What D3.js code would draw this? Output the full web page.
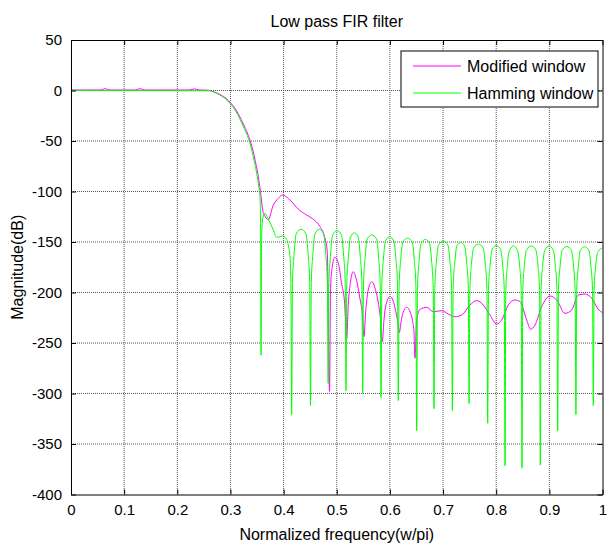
<!DOCTYPE html>
<html>
<head>
<meta charset="utf-8">
<script src="https://cdn.jsdelivr.net/npm/d3@7"></script>
<style>
  body { margin: 0; background: #fff; }
  text { font-family: "Liberation Sans", Arial, sans-serif; }
</style>
</head>
<body>
<svg id="chart"></svg>
<script>
// Axis ticks
const freqTicks = [0, 0.1, 0.2, 0.3, 0.4, 0.5, 0.6, 0.7, 0.8, 0.9, 1];
const dbTicks = [-400, -350, -300, -250, -200, -150, -100, -50, 0, 50];

const seriesNames = ["Modified window", "Hamming window"];

// Modified window response: [normalized freq, dB]
const modified = [
  [0, 0.5], [0.055, 0.5], [0.064, 1.8], [0.073, 0.5], [0.121, 0.5], [0.13, 1.8], [0.139, 0.5],
  [0.223, 0.5], [0.232, 1.6], [0.241, 0.5], [0.256, 0.3],
  [0.2635, -0.3], [0.273, -2.2], [0.2823, -4.5], [0.2917, -7.8], [0.3011, -12.7], [0.3106, -19.3],
  [0.32, -28.5], [0.328, -37.5], [0.3356, -47.3], [0.342, -58.9], [0.347, -70.5], [0.3514, -82],
  [0.3552, -95.2], [0.3576, -105], [0.3605, -118], [0.3655, -125], [0.371, -128], [0.3806, -113.4],
  [0.39, -106.8], [0.3983, -103.5], [0.412, -108.4], [0.4277, -117.6], [0.4435, -123.3],
  [0.4559, -127.5], [0.4685, -134.8], [0.476, -143], [0.4822, -159.6], [0.4864, -298],
  [0.4884, -195], [0.4914, -175], [0.4967, -165.2], [0.5035, -172], [0.5087, -190], [0.5147, -210], [0.5187, -246],
  [0.5217, -212], [0.5257, -190], [0.531, -179.4], [0.5373, -188], [0.5433, -205], [0.5483, -222], [0.5513, -243.7],
  [0.5543, -220], [0.5583, -200], [0.5658, -189.3], [0.5728, -197], [0.5788, -212], [0.5827, -228], [0.5857, -248.7],
  [0.5887, -228], [0.5927, -212], [0.6002, -204], [0.6072, -210], [0.6122, -222], [0.6152, -230], [0.6177, -240],
  [0.6207, -230], [0.6247, -220], [0.6316, -214.7], [0.6386, -220], [0.6426, -228], [0.6452, -238], [0.6472, -265],
  [0.6502, -228], [0.6566, -216.7], [0.6692, -214.7], [0.6817, -219], [0.6975, -218], [0.7099, -221.3],
  [0.7225, -224], [0.7351, -222.3], [0.7507, -212.4], [0.7633, -208], [0.7757, -212.4], [0.7883, -222.3],
  [0.8009, -231.2], [0.8103, -227.2], [0.8228, -212.4], [0.8354, -207.4], [0.8448, -209], [0.8574, -227.2],
  [0.8649, -236.4], [0.873, -232.2], [0.8856, -214], [0.9012, -203.5], [0.9138, -207.4], [0.9294, -220.6],
  [0.942, -217.3], [0.9545, -202.5], [0.967, -201.5], [0.9797, -205.7], [0.9921, -216.7], [1.0, -220]
];

// Hamming window response: [normalized freq, dB]
const hamming = [
  [0, 0], [0.2615, -0.3], [0.271, -2.2], [0.2803, -4.5], [0.2897, -7.8], [0.2991, -12.7], [0.3086, -19.3],
  [0.318, -28.5], [0.326, -37.5], [0.3336, -47.3], [0.34, -58.9], [0.345, -70.5], [0.3494, -82],
  [0.3532, -95.2], [0.3556, -105], [0.3568, -140], [0.3575, -262],
  [0.3585, -150], [0.361, -126], [0.365, -121.6], [0.3682, -124], [0.3745, -131], [0.3806, -138],
  [0.387, -145.4], [0.3932, -144.7], [0.3983, -144], [0.4045, -146.3], [0.4088, -153], [0.412, -164.5],
  [0.4137, -190], [0.4152, -321],
  [0.4167, -190], [0.4197, -162], [0.4237, -142], [0.433, -137.4], [0.4421, -142], [0.4461, -162], [0.4491, -190], [0.4506, -312],
  [0.4521, -190], [0.4551, -162], [0.4591, -142], [0.4672, -137.4], [0.4753, -142], [0.4793, -162], [0.4823, -190], [0.4838, -290],
  [0.4853, -190], [0.4883, -163], [0.4923, -143], [0.5006, -138.8], [0.5089, -143], [0.5129, -163], [0.5159, -190], [0.5174, -297.5],
  [0.5189, -191], [0.5219, -165], [0.5259, -145], [0.5331, -141], [0.5403, -145], [0.5443, -165], [0.5473, -191], [0.5488, -300],
  [0.5503, -192], [0.5533, -166], [0.5573, -147], [0.566, -143], [0.5748, -147], [0.5788, -166], [0.5818, -192], [0.5833, -304],
  [0.5848, -193], [0.5878, -167], [0.5918, -149], [0.5995, -144.7], [0.6073, -149], [0.6113, -167], [0.6143, -193], [0.6158, -307],
  [0.6173, -194], [0.6203, -168], [0.6243, -150], [0.6331, -146.3], [0.6419, -150], [0.6459, -168], [0.6489, -194], [0.6504, -337],
  [0.6519, -195], [0.6549, -169], [0.6589, -151], [0.6667, -147.5], [0.6745, -151], [0.6785, -169], [0.6815, -195], [0.683, -315],
  [0.6845, -195], [0.6875, -170], [0.6915, -153], [0.7002, -149], [0.709, -153], [0.713, -170], [0.716, -195], [0.7175, -317],
  [0.719, -196], [0.722, -171], [0.726, -154], [0.7333, -150.5], [0.7405, -154], [0.7445, -171], [0.7475, -196], [0.749, -310],
  [0.7505, -196], [0.7535, -172], [0.7575, -156], [0.7665, -152], [0.7755, -156], [0.7795, -172], [0.7825, -196], [0.784, -329.5],
  [0.7855, -197], [0.7885, -173], [0.7925, -157], [0.8003, -153.5], [0.8081, -157], [0.8121, -173], [0.8151, -197], [0.8166, -371.5],
  [0.8181, -197], [0.8211, -173], [0.8251, -158], [0.8326, -154], [0.84, -158], [0.844, -173], [0.847, -197], [0.8485, -374],
  [0.85, -197], [0.853, -173], [0.857, -158], [0.8658, -154], [0.8745, -158], [0.8785, -173], [0.8815, -197], [0.883, -371],
  [0.8845, -197], [0.8875, -173], [0.8915, -158], [0.8994, -154], [0.9072, -158], [0.9112, -173], [0.9142, -197], [0.9157, -337],
  [0.9172, -197], [0.9202, -174], [0.9242, -158], [0.9329, -154.5], [0.9415, -158], [0.9455, -174], [0.9485, -197], [0.95, -321],
  [0.9515, -197], [0.9545, -174], [0.9585, -158], [0.9664, -154.7], [0.9742, -158], [0.9782, -174], [0.9812, -197], [0.9827, -312],
  [0.9842, -197], [0.9872, -174], [0.9912, -160], [1.0, -156]
];

const width = 607, height = 543;
const plot = {left: 71, right: 602.5, top: 40, bottom: 494.5};
const tickFont = 15, labelFont = 16;

const svg = d3.select("#chart")
  .attr("width", width)
  .attr("height", height)
  .style("background", "#fff");

const x = d3.scaleLinear().domain([0, 1]).range([plot.left, plot.right]);
const y = d3.scaleLinear().domain([-400, 50]).range([plot.bottom, plot.top]);

// Grid lines (dotted, MATLAB style)
svg.append("g")
  .selectAll("line.vgrid")
  .data(freqTicks.slice(1, -1))
  .enter()
  .append("line")
    .attr("x1", d => x(d)).attr("x2", d => x(d))
    .attr("y1", plot.top).attr("y2", plot.bottom)
    .style("stroke", "#555")
    .style("stroke-dasharray", "1,1");
svg.append("g")
  .selectAll("line.hgrid")
  .data(dbTicks.slice(1, -1))
  .enter()
  .append("line")
    .attr("x1", plot.left).attr("x2", plot.right)
    .attr("y1", d => y(d)).attr("y2", d => y(d))
    .style("stroke", "#555")
    .style("stroke-dasharray", "1,1");

// Clip for the curves
svg.append("clipPath").attr("id", "clip")
  .append("rect")
    .attr("x", plot.left).attr("y", plot.top)
    .attr("width", plot.right - plot.left)
    .attr("height", plot.bottom - plot.top);

const line = d3.line()
  .x(d => x(d[0]))
  .y(d => y(d[1]))
  .curve(d3.curveMonotoneX);

const colors = ["#ff00ff", "#00ff00"];

svg.append("path")
  .datum(modified)
  .attr("clip-path", "url(#clip)")
  .attr("d", line)
  .style("fill", "none")
  .style("stroke", colors[0])
  .style("stroke-width", 1);

svg.append("path")
  .datum(hamming)
  .attr("clip-path", "url(#clip)")
  .attr("d", line)
  .style("fill", "none")
  .style("stroke", colors[1])
  .style("stroke-width", 1);

// Axes: inward ticks on all four sides, plain hyphen for minus
const fmt = d => String(d);
const tickLen = 5;
svg.append("g")
  .attr("transform", `translate(0,${plot.bottom})`)
  .call(d3.axisBottom(x).tickValues(freqTicks).tickSizeInner(-tickLen).tickSizeOuter(0)
    .tickPadding(10).tickFormat(fmt))
  .call(g => g.select(".domain").style("stroke", "#000"))
  .call(g => g.selectAll("text").style("font-size", tickFont + "px").attr("fill", "#000"));
svg.append("g")
  .attr("transform", `translate(0,${plot.top})`)
  .call(d3.axisTop(x).tickValues(freqTicks).tickSizeInner(-tickLen).tickSizeOuter(0).tickFormat(""))
  .call(g => g.select(".domain").style("stroke", "#000"));
svg.append("g")
  .attr("transform", `translate(${plot.left},0)`)
  .call(d3.axisLeft(y).tickValues(dbTicks).tickSizeInner(-tickLen).tickSizeOuter(0)
    .tickPadding(9).tickFormat(fmt))
  .call(g => g.select(".domain").style("stroke", "#000"))
  .call(g => g.selectAll("text").style("font-size", tickFont + "px").attr("fill", "#000"));
svg.append("g")
  .attr("transform", `translate(${plot.right},0)`)
  .call(d3.axisRight(y).tickValues(dbTicks).tickSizeInner(-tickLen).tickSizeOuter(0).tickFormat(""))
  .call(g => g.select(".domain").style("stroke", "#000"));

// Title and axis labels
svg.append("text")
  .attr("x", (plot.left + plot.right) / 2)
  .attr("y", 27)
  .attr("text-anchor", "middle")
  .style("font-size", labelFont + "px")
  .text("Low pass FIR filter");
svg.append("text")
  .attr("x", (plot.left + plot.right) / 2)
  .attr("y", 540)
  .attr("text-anchor", "middle")
  .style("font-size", labelFont + "px")
  .text("Normalized frequency(w/pi)");
svg.append("text")
  .attr("transform", `translate(23,${(plot.top + plot.bottom) / 2}) rotate(-90)`)
  .attr("text-anchor", "middle")
  .style("font-size", labelFont + "px")
  .text("Magnitude(dB)");

// Legend
const legend = svg.append("g");
legend.append("rect")
  .attr("x", 401).attr("y", 51)
  .attr("width", 197).attr("height", 56)
  .style("fill", "#fff")
  .style("stroke", "#000");
legend.selectAll("line.leg")
  .data(seriesNames)
  .enter()
  .append("line")
    .attr("x1", 413).attr("x2", 461)
    .attr("y1", (d, i) => 66 + i * 27)
    .attr("y2", (d, i) => 66 + i * 27)
    .style("stroke", (d, i) => colors[i]);
legend.selectAll("text.leg")
  .data(seriesNames)
  .enter()
  .append("text")
    .attr("x", 467)
    .attr("y", (d, i) => 66 + i * 27)
    .attr("dy", "0.35em")
    .style("font-size", labelFont + "px")
    .text(d => d);
</script>
</body>
</html>
